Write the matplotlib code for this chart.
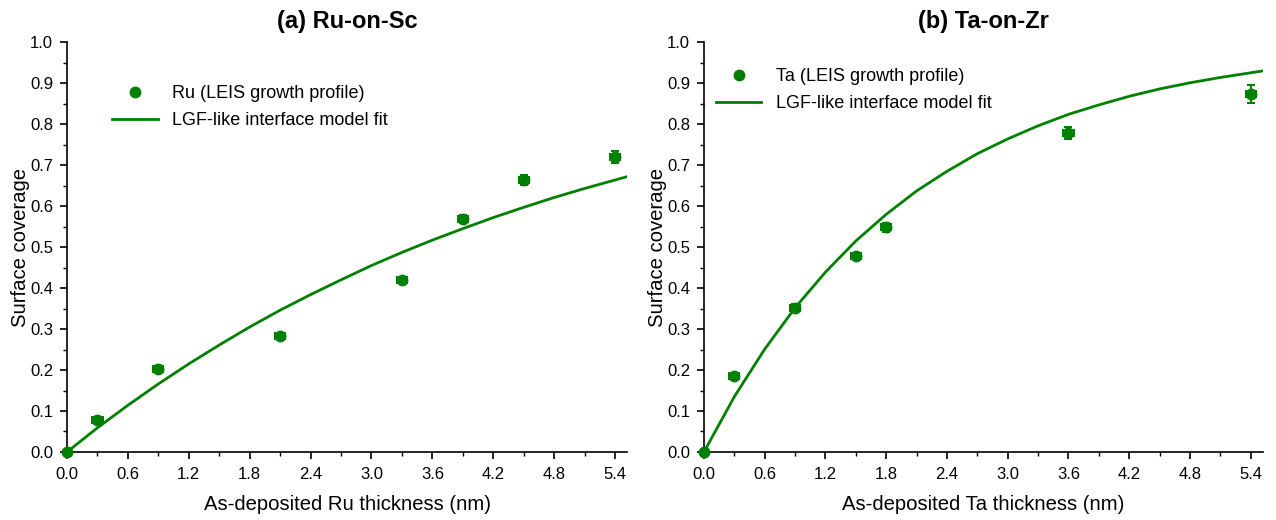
import matplotlib
matplotlib.use("Agg")
import matplotlib.pyplot as plt
from matplotlib.lines import Line2D
from matplotlib.ticker import MultipleLocator

plt.rcParams['font.family'] = ['Liberation Sans', 'DejaVu Sans']

GREEN = '#008000'

# (a) Ru-on-Sc
ru_x = [0.0, 0.3, 0.9, 2.1, 3.3, 3.9, 4.5, 5.4]
ru_y = [0.0, 0.077, 0.203, 0.283, 0.419, 0.568, 0.663, 0.720]
ru_xerr = [0.0, 0.05, 0.05, 0.05, 0.05, 0.05, 0.05, 0.05]
ru_yerr = [0.0, 0.006, 0.006, 0.006, 0.006, 0.010, 0.012, 0.014]
ru_fit_x = [0.0, 0.3, 0.6, 0.9, 1.2, 1.5, 1.8, 2.1, 2.4, 2.7, 3.0, 3.3, 3.6, 3.9, 4.2, 4.5, 4.8, 5.1, 5.52]
ru_fit_y = [0.0, 0.059, 0.114, 0.166, 0.215, 0.261, 0.305, 0.346, 0.384, 0.420, 0.455, 0.487,
            0.517, 0.545, 0.572, 0.597, 0.621, 0.643, 0.672]

# (b) Ta-on-Zr
ta_x = [0.0, 0.3, 0.9, 1.5, 1.8, 3.6, 5.4]
ta_y = [0.0, 0.185, 0.352, 0.478, 0.548, 0.779, 0.873]
ta_xerr = [0.0, 0.05, 0.05, 0.05, 0.05, 0.05, 0.05]
ta_yerr = [0.0, 0.006, 0.008, 0.008, 0.010, 0.014, 0.022]
ta_fit_x = [0.0, 0.3, 0.6, 0.9, 1.2, 1.5, 1.8, 2.1, 2.4, 2.7, 3.0, 3.3, 3.6, 3.9, 4.2, 4.5, 4.8, 5.1, 5.52]
ta_fit_y = [0.0, 0.135, 0.251, 0.352, 0.439, 0.515, 0.580, 0.637, 0.685, 0.728, 0.764, 0.796,
            0.824, 0.847, 0.868, 0.886, 0.901, 0.914, 0.930]

panels = [
    dict(title='(a) Ru-on-Sc', x=ru_x, y=ru_y, xerr=ru_xerr, yerr=ru_yerr,
         fx=ru_fit_x, fy=ru_fit_y, label='Ru (LEIS growth profile)',
         xlabel='As-deposited Ru thickness (nm)', pos=[0.0525, 0.1308, 0.439, 0.788],
         leg=(0.052, 0.935)),
    dict(title='(b) Ta-on-Zr', x=ta_x, y=ta_y, xerr=ta_xerr, yerr=ta_yerr,
         fx=ta_fit_x, fy=ta_fit_y, label='Ta (LEIS growth profile)',
         xlabel='As-deposited Ta thickness (nm)', pos=[0.5517, 0.1308, 0.438, 0.788],
         leg=(-0.007, 0.977)),
]

fig = plt.figure(figsize=(12.76, 5.2), dpi=100)

for p in panels:
    ax = fig.add_axes(p['pos'])
    ax.errorbar(p['x'], p['y'], xerr=p['xerr'], yerr=p['yerr'], fmt='o', color=GREEN,
                ms=7.5, elinewidth=1.5, capsize=3, capthick=1.5, zorder=3, clip_on=False)
    ax.plot(p['fx'], p['fy'], '-', color=GREEN, lw=2)
    ax.set_xlim(0, 5.52)
    ax.set_ylim(0, 1.0)
    ax.xaxis.set_major_locator(MultipleLocator(0.6))
    ax.xaxis.set_minor_locator(MultipleLocator(0.3))
    ax.yaxis.set_major_locator(MultipleLocator(0.1))
    ax.yaxis.set_minor_locator(MultipleLocator(0.05))
    ax.xaxis.set_major_formatter(lambda v, pos: f'{v:.1f}')
    ax.yaxis.set_major_formatter(lambda v, pos: f'{v:.1f}')
    ax.spines['top'].set_visible(False)
    ax.spines['right'].set_visible(False)
    ax.spines['left'].set_linewidth(1.2)
    ax.spines['bottom'].set_linewidth(1.2)
    ax.tick_params(which='major', direction='out', length=5, width=1.2, labelsize=12, pad=5)
    ax.tick_params(axis='x', which='major', pad=6)
    ax.tick_params(which='minor', direction='out', length=3, width=1.0)
    ax.set_title(p['title'], fontsize=17, fontweight='bold', pad=10)
    ax.set_xlabel(p['xlabel'], fontsize=14.6, labelpad=9)
    ax.set_ylabel('Surface coverage', fontsize=14.6, labelpad=0)
    handles = [Line2D([], [], ls='none', marker='o', ms=7.5, color=GREEN),
               Line2D([], [], ls='-', lw=2, color=GREEN)]
    labels = [p['label'], 'LGF-like interface model fit']
    ax.legend(handles, labels, loc='upper left', bbox_to_anchor=p['leg'],
              frameon=False, fontsize=13, handlelength=2.5, labelspacing=0.55)

fig.savefig('out.png', dpi=100)
